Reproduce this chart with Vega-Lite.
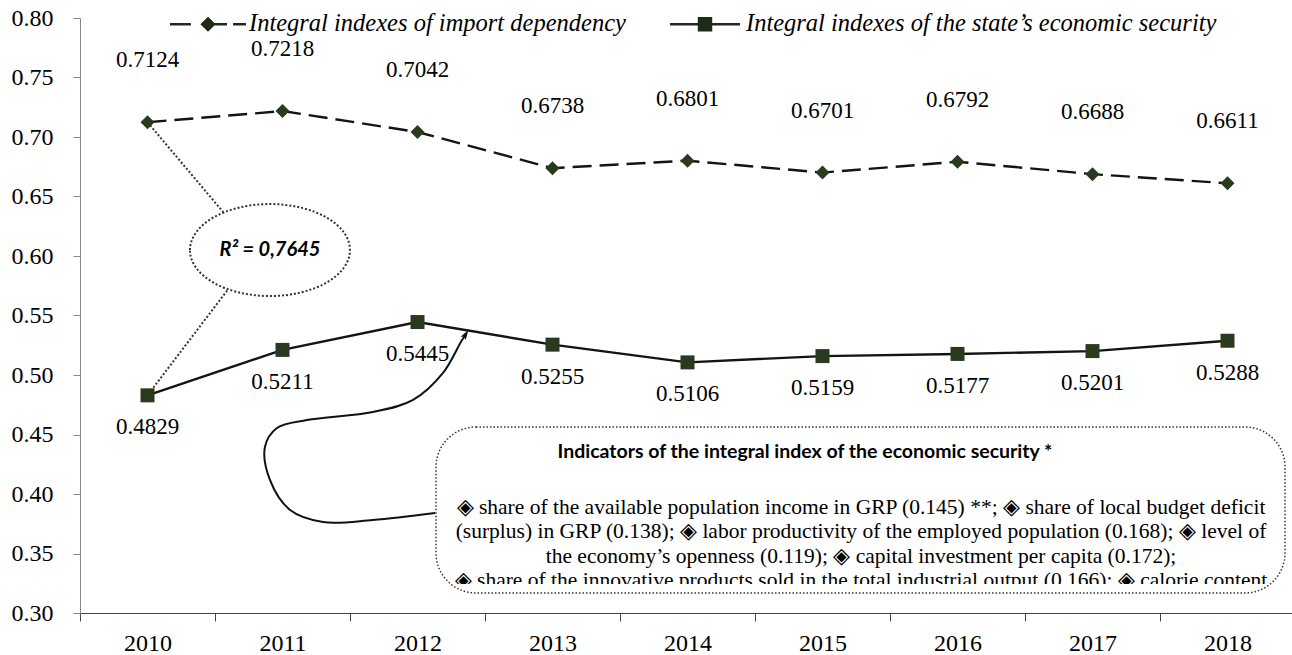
{
  "$schema": "https://vega.github.io/schema/vega-lite/v6.json",
  "width": 1215,
  "height": 595,
  "autosize": "none",
  "padding": {"left": 80, "top": 18, "right": 0, "bottom": 42},
  "background": "white",
  "config": {"view": {"stroke": null}, "font": "Liberation Serif"},
  "resolve": {"scale": {"shape": "independent"}},
  "datasets": {
    "series": [
      {"year": 2010, "s": "Integral indexes of import dependency", "v": 0.7124},
      {"year": 2011, "s": "Integral indexes of import dependency", "v": 0.7218},
      {"year": 2012, "s": "Integral indexes of import dependency", "v": 0.7042},
      {"year": 2013, "s": "Integral indexes of import dependency", "v": 0.6738},
      {"year": 2014, "s": "Integral indexes of import dependency", "v": 0.6801},
      {"year": 2015, "s": "Integral indexes of import dependency", "v": 0.6701},
      {"year": 2016, "s": "Integral indexes of import dependency", "v": 0.6792},
      {"year": 2017, "s": "Integral indexes of import dependency", "v": 0.6688},
      {"year": 2018, "s": "Integral indexes of import dependency", "v": 0.6611},
      {"year": 2010, "s": "Integral indexes of the state’s economic security", "v": 0.4829},
      {"year": 2011, "s": "Integral indexes of the state’s economic security", "v": 0.5211},
      {"year": 2012, "s": "Integral indexes of the state’s economic security", "v": 0.5445},
      {"year": 2013, "s": "Integral indexes of the state’s economic security", "v": 0.5255},
      {"year": 2014, "s": "Integral indexes of the state’s economic security", "v": 0.5106},
      {"year": 2015, "s": "Integral indexes of the state’s economic security", "v": 0.5159},
      {"year": 2016, "s": "Integral indexes of the state’s economic security", "v": 0.5177},
      {"year": 2017, "s": "Integral indexes of the state’s economic security", "v": 0.5201},
      {"year": 2018, "s": "Integral indexes of the state’s economic security", "v": 0.5288}
    ],
    "connectors": [
      {"x": 2010, "y": 0.7124, "x2": 2010.56, "y2": 0.637},
      {"x": 2010.59, "y": 0.571, "x2": 2010, "y2": 0.4829}
    ],
    "ellipse": [{"x": 2010.907, "y": 0.605, "label": "R² = 0,7645"}],
    "box": [{"x": 2012.137, "x2": 2018.426, "y": 0.4563, "y2": 0.3168}],
    "cover": [{"x": 2012.17, "x2": 2018.39, "y": 0.3244, "y2": 0.3176}],
    "boxtitle": [{"x": 2014.87, "y": 0.4353, "text": "Indicators of the integral index of the economic security *"}],
    "boxtext": [{"x": 2015.285, "y": 0.3975, "text": [
      "◈ share of the available population income in GRP (0.145) **; ◈ share of local budget deficit",
      "(surplus) in GRP (0.138); ◈ labor productivity of the employed population (0.168); ◈ level of",
      "the economy’s openness (0.119); ◈ capital investment per capita (0.172);",
      "◈ share of the innovative products sold in the total industrial output (0.166); ◈ calorie content"
    ]}],
    "arrow": [
      {"i": 1, "x": 2012.130, "y": 0.3840},
      {"i": 2, "x": 2011.670, "y": 0.3782},
      {"i": 3, "x": 2011.300, "y": 0.3765},
      {"i": 4, "x": 2011.056, "y": 0.3866},
      {"i": 5, "x": 2010.907, "y": 0.4118},
      {"i": 6, "x": 2010.870, "y": 0.4395},
      {"i": 7, "x": 2010.959, "y": 0.4555},
      {"i": 8, "x": 2011.181, "y": 0.4622},
      {"i": 9, "x": 2011.670, "y": 0.4689},
      {"i": 10, "x": 2011.967, "y": 0.4790},
      {"i": 11, "x": 2012.189, "y": 0.5017},
      {"i": 12, "x": 2012.330, "y": 0.5294},
      {"i": 13, "x": 2012.360, "y": 0.5340}
    ],
    "arrowhead": [{"x": 2012.352, "y": 0.5332}]
  },
  "layer": [
    {
      "data": {"name": "series"},
      "transform": [{"filter": "datum.s === 'Integral indexes of import dependency'"}],
      "mark": {"type": "line", "strokeWidth": 2.4, "color": "#141414", "strokeDash": [19, 8]},
      "encoding": {
        "x": {"field": "year", "type": "quantitative", "scale": {"domain": [2009.5, 2018.5], "nice": false, "zero": false},
          "axis": {"values": [2009.5, 2010.5, 2011.5, 2012.5, 2013.5, 2014.5, 2015.5, 2016.5, 2017.5],
            "labelExpr": "format(datum.value + 0.5, 'd')", "labelOffset": 67.5, "labelFlush": false, "labelOverlap": false,
            "grid": false, "tickSize": 8, "labelFont": "Liberation Serif", "labelFontSize": 24, "labelColor": "#000",
            "labelPadding": 10, "domainColor": "#444", "tickColor": "#444", "title": null}},
        "y": {"field": "v", "type": "quantitative", "scale": {"domain": [0.3, 0.8], "nice": false, "zero": false},
          "axis": {"values": [0.3, 0.35, 0.4, 0.45, 0.5, 0.55, 0.6, 0.65, 0.7, 0.75, 0.8], "format": ".2f",
            "grid": false, "tickSize": 7, "labelFont": "Liberation Serif", "labelFontSize": 24, "labelColor": "#000",
            "labelPadding": 20, "labelFlush": false, "domainColor": "#888", "tickColor": "#888", "title": null}}
      }
    },
    {
      "data": {"name": "series"},
      "transform": [{"filter": "datum.s !== 'Integral indexes of import dependency'"}],
      "mark": {"type": "line", "strokeWidth": 2.4, "color": "#141414"},
      "encoding": {
        "x": {"field": "year", "type": "quantitative", "scale": {"domain": [2009.5, 2018.5], "nice": false, "zero": false}},
        "y": {"field": "v", "type": "quantitative", "scale": {"domain": [0.3, 0.8], "nice": false, "zero": false}}
      }
    },
    {
      "data": {"name": "series"},
      "transform": [{"filter": "false"}],
      "mark": {"type": "point", "filled": true, "color": "#1f2a18", "opacity": 1},
      "encoding": {
        "x": {"field": "year", "type": "quantitative", "scale": {"domain": [2009.5, 2018.5], "nice": false, "zero": false}},
        "y": {"field": "v", "type": "quantitative", "scale": {"domain": [0.3, 0.8], "nice": false, "zero": false}},
        "shape": {"field": "s", "type": "nominal",
          "scale": {"domain": ["Integral indexes of import dependency", "Integral indexes of the state’s economic security"],
            "range": [
              "M-1,-0.033L-0.45,-0.033L-0.45,0.033L-1,0.033ZM-0.2,0L0,-0.2L0.2,0L0,0.2ZM0.15,-0.033L0.5,-0.033L0.5,0.033L0.15,0.033ZM0.66,-0.033L1,-0.033L1,0.033L0.66,0.033Z",
              "M-0.92,-0.033L0.92,-0.033L0.92,0.033L-0.92,0.033ZM-0.19,-0.19L0.19,-0.19L0.19,0.19L-0.19,0.19Z"
            ]},
          "legend": {"orient": "none", "legendX": 89, "legendY": -33, "direction": "horizontal", "title": null,
            "labelFont": "Liberation Serif", "labelFontStyle": "italic", "labelFontSize": 24.5, "labelColor": "#000",
            "labelLimit": 800, "columnPadding": 40, "labelOffset": 2, "padding": 0, "symbolSize": 5776, "symbolOpacity": 1}
        }
      }
    },
    {
      "data": {"name": "connectors"},
      "mark": {"type": "rule", "strokeDash": [2, 2], "strokeWidth": 2, "color": "#333"},
      "encoding": {
        "x": {"field": "x", "type": "quantitative", "scale": {"domain": [2009.5, 2018.5], "nice": false, "zero": false}},
        "y": {"field": "y", "type": "quantitative", "scale": {"domain": [0.3, 0.8], "nice": false, "zero": false}},
        "x2": {"field": "x2"},
        "y2": {"field": "y2"}
      }
    },
    {
      "data": {"name": "ellipse"},
      "mark": {"type": "point", "shape": "M-1,0A1,0.575,0,1,1,1,0A1,0.575,0,1,1,-1,0Z", "size": 25600,
        "filled": false, "fill": "white", "fillOpacity": 1, "stroke": "#333", "strokeWidth": 2, "strokeDash": [2, 2], "opacity": 1},
      "encoding": {
        "x": {"field": "x", "type": "quantitative", "scale": {"domain": [2009.5, 2018.5], "nice": false, "zero": false}},
        "y": {"field": "y", "type": "quantitative", "scale": {"domain": [0.3, 0.8], "nice": false, "zero": false}}
      }
    },
    {
      "data": {"name": "ellipse"},
      "mark": {"type": "text", "font": "Lato", "fontSize": 20, "fontWeight": "bold", "fontStyle": "italic", "color": "#000", "align": "center", "baseline": "middle"},
      "encoding": {
        "x": {"field": "x", "type": "quantitative", "scale": {"domain": [2009.5, 2018.5], "nice": false, "zero": false}},
        "y": {"field": "y", "type": "quantitative", "scale": {"domain": [0.3, 0.8], "nice": false, "zero": false}},
        "text": {"field": "label"}
      }
    },
    {
      "data": {"name": "series"},
      "mark": {"type": "point", "filled": true, "opacity": 1, "size": 196, "color": "#2a3a1e"},
      "encoding": {
        "x": {"field": "year", "type": "quantitative", "scale": {"domain": [2009.5, 2018.5], "nice": false, "zero": false}},
        "y": {"field": "v", "type": "quantitative", "scale": {"domain": [0.3, 0.8], "nice": false, "zero": false}},
        "shape": {"field": "s", "type": "nominal",
          "scale": {"domain": ["Integral indexes of import dependency", "Integral indexes of the state’s economic security"], "range": ["diamond", "square"]},
          "legend": null}
      }
    },
    {
      "data": {"name": "series"},
      "transform": [{"filter": "datum.s === 'Integral indexes of import dependency'"}],
      "mark": {"type": "text", "font": "Liberation Serif", "fontSize": 23, "dy": -62, "color": "#000", "baseline": "middle"},
      "encoding": {
        "x": {"field": "year", "type": "quantitative", "scale": {"domain": [2009.5, 2018.5], "nice": false, "zero": false}},
        "y": {"field": "v", "type": "quantitative", "scale": {"domain": [0.3, 0.8], "nice": false, "zero": false}},
        "text": {"field": "v", "type": "quantitative", "format": ".4f"}
      }
    },
    {
      "data": {"name": "series"},
      "transform": [{"filter": "datum.s !== 'Integral indexes of import dependency'"}],
      "mark": {"type": "text", "font": "Liberation Serif", "fontSize": 23, "dy": 32, "color": "#000", "baseline": "middle"},
      "encoding": {
        "x": {"field": "year", "type": "quantitative", "scale": {"domain": [2009.5, 2018.5], "nice": false, "zero": false}},
        "y": {"field": "v", "type": "quantitative", "scale": {"domain": [0.3, 0.8], "nice": false, "zero": false}},
        "text": {"field": "v", "type": "quantitative", "format": ".4f"}
      }
    },
    {
      "data": {"name": "arrow"},
      "mark": {"type": "line", "interpolate": "catmull-rom", "strokeWidth": 2, "color": "#111"},
      "encoding": {
        "x": {"field": "x", "type": "quantitative", "scale": {"domain": [2009.5, 2018.5], "nice": false, "zero": false}},
        "y": {"field": "y", "type": "quantitative", "scale": {"domain": [0.3, 0.8], "nice": false, "zero": false}},
        "order": {"field": "i", "type": "quantitative"}
      }
    },
    {
      "data": {"name": "arrowhead"},
      "mark": {"type": "point", "shape": "M0,-1.3L0.6,0.7L0,0.3L-0.6,0.7Z", "size": 100, "angle": 32, "filled": true, "color": "#111", "opacity": 1},
      "encoding": {
        "x": {"field": "x", "type": "quantitative", "scale": {"domain": [2009.5, 2018.5], "nice": false, "zero": false}},
        "y": {"field": "y", "type": "quantitative", "scale": {"domain": [0.3, 0.8], "nice": false, "zero": false}}
      }
    },
    {
      "data": {"name": "box"},
      "mark": {"type": "rect", "fill": "white", "cornerRadius": 40},
      "encoding": {
        "x": {"field": "x", "type": "quantitative", "scale": {"domain": [2009.5, 2018.5], "nice": false, "zero": false}},
        "y": {"field": "y", "type": "quantitative", "scale": {"domain": [0.3, 0.8], "nice": false, "zero": false}},
        "x2": {"field": "x2"},
        "y2": {"field": "y2"}
      }
    },
    {
      "data": {"name": "boxtitle"},
      "mark": {"type": "text", "font": "Lato", "fontSize": 19.5, "fontWeight": "bold", "color": "#000", "align": "center", "baseline": "middle"},
      "encoding": {
        "x": {"field": "x", "type": "quantitative", "scale": {"domain": [2009.5, 2018.5], "nice": false, "zero": false}},
        "y": {"field": "y", "type": "quantitative", "scale": {"domain": [0.3, 0.8], "nice": false, "zero": false}},
        "text": {"field": "text"}
      }
    },
    {
      "data": {"name": "boxtext"},
      "mark": {"type": "text", "font": "Liberation Serif", "fontSize": 21.5, "lineHeight": 24.3, "color": "#000", "align": "center", "baseline": "top"},
      "encoding": {
        "x": {"field": "x", "type": "quantitative", "scale": {"domain": [2009.5, 2018.5], "nice": false, "zero": false}},
        "y": {"field": "y", "type": "quantitative", "scale": {"domain": [0.3, 0.8], "nice": false, "zero": false}},
        "text": {"field": "text"}
      }
    },
    {
      "data": {"name": "cover"},
      "mark": {"type": "rect", "fill": "white"},
      "encoding": {
        "x": {"field": "x", "type": "quantitative", "scale": {"domain": [2009.5, 2018.5], "nice": false, "zero": false}},
        "y": {"field": "y", "type": "quantitative", "scale": {"domain": [0.3, 0.8], "nice": false, "zero": false}},
        "x2": {"field": "x2"},
        "y2": {"field": "y2"}
      }
    },
    {
      "data": {"name": "box"},
      "mark": {"type": "rect", "fill": null, "fillOpacity": 0, "stroke": "#333", "strokeWidth": 1.5, "strokeDash": [1.5, 2], "cornerRadius": 40},
      "encoding": {
        "x": {"field": "x", "type": "quantitative", "scale": {"domain": [2009.5, 2018.5], "nice": false, "zero": false}},
        "y": {"field": "y", "type": "quantitative", "scale": {"domain": [0.3, 0.8], "nice": false, "zero": false}},
        "x2": {"field": "x2"},
        "y2": {"field": "y2"}
      }
    }
  ]
}
